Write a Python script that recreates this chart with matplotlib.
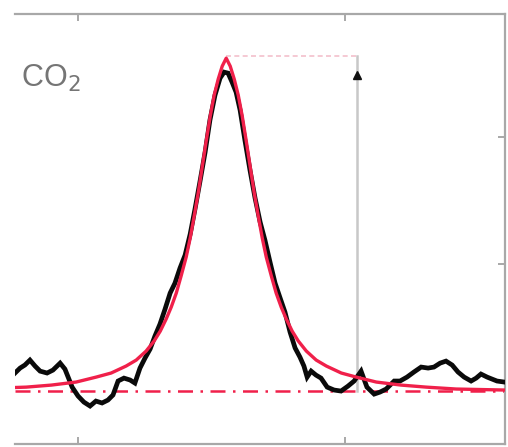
import matplotlib
matplotlib.use("Agg")
import matplotlib.pyplot as plt

# Measured trace (black) - relative frequency (a.u.) vs signal (a.u.)
data_x = [-0.736, -0.717, -0.699, -0.680, -0.661, -0.642, -0.616, -0.594, -0.567, -0.549,
          -0.522, -0.500, -0.478, -0.455, -0.433, -0.410, -0.388, -0.369, -0.350, -0.328,
          -0.305, -0.287, -0.268, -0.249, -0.230, -0.212, -0.193, -0.174, -0.155, -0.137,
          -0.118, -0.099, -0.080, -0.062, -0.043, -0.024, -0.006, 0.013, 0.032, 0.047,
          0.062, 0.077, 0.092, 0.107, 0.125, 0.144, 0.163, 0.182, 0.200, 0.219,
          0.238, 0.257, 0.275, 0.294, 0.313, 0.331, 0.346, 0.358, 0.373, 0.391,
          0.410, 0.433, 0.459, 0.485, 0.511, 0.534, 0.560, 0.582, 0.609, 0.631,
          0.654, 0.684, 0.706, 0.732, 0.758, 0.785, 0.811, 0.833, 0.856, 0.878,
          0.901, 0.923, 0.946, 0.972, 0.991, 1.009, 1.032, 1.051, 1.069, 1.096]
data_y = [0.142, 0.181, 0.205, 0.244, 0.197, 0.157, 0.142, 0.165, 0.220, 0.173,
          0.031, -0.039, -0.087, -0.118, -0.079, -0.094, -0.071, -0.031, 0.079, 0.102,
          0.087, 0.063, 0.181, 0.260, 0.331, 0.433, 0.528, 0.646, 0.772, 0.850,
          0.969, 1.071, 1.236, 1.433, 1.654, 1.882, 2.134, 2.331, 2.465, 2.512,
          2.504, 2.433, 2.354, 2.213, 1.976, 1.740, 1.520, 1.331, 1.189, 1.016,
          0.850, 0.732, 0.622, 0.465, 0.339, 0.268, 0.197, 0.110, 0.157, 0.126,
          0.102, 0.031, 0.008, 0.000, 0.039, 0.079, 0.157, 0.031, -0.024, -0.008,
          0.016, 0.079, 0.079, 0.110, 0.150, 0.189, 0.181, 0.189, 0.220, 0.236,
          0.205, 0.150, 0.110, 0.079, 0.102, 0.134, 0.110, 0.094, 0.079, 0.071]

# Fitted line profile (red)
fit_x = [-0.736, -0.694, -0.600, -0.507, -0.432, -0.376, -0.320, -0.282, -0.245, -0.215,
         -0.192, -0.170, -0.151, -0.132, -0.114, -0.095, -0.080, -0.065, -0.050, -0.035,
         -0.020, -0.005, 0.010, 0.025, 0.040, 0.055, 0.070, 0.085, 0.100, 0.115,
         0.130, 0.145, 0.160, 0.175, 0.190, 0.205, 0.224, 0.242, 0.261, 0.280,
         0.302, 0.325, 0.355, 0.392, 0.430, 0.486, 0.542, 0.617, 0.710, 0.804,
         0.916, 1.099]
fit_y = [0.028, 0.031, 0.047, 0.071, 0.110, 0.142, 0.197, 0.244, 0.315, 0.394,
         0.472, 0.567, 0.661, 0.772, 0.906, 1.055, 1.205, 1.378, 1.559, 1.764,
         1.969, 2.165, 2.331, 2.457, 2.559, 2.622, 2.559, 2.457, 2.331, 2.165,
         1.969, 1.764, 1.559, 1.378, 1.205, 1.055, 0.906, 0.772, 0.661, 0.567,
         0.472, 0.394, 0.315, 0.244, 0.197, 0.142, 0.110, 0.071, 0.047, 0.031,
         0.016, 0.008]

baseline = 0.0
peak_x = 0.055
peak_y = 2.64
marker_x = 0.545
label = "CO$_2$"
x_ticks = [-0.5, 0.5]
y_ticks = [1.0, 2.0]

fig = plt.figure(figsize=(5.08, 4.47), dpi=100)
ax = fig.add_axes([15/508, 3/447, 490/508, 430/447])
ax.set_xlim(-0.736, 1.099)
ax.set_ylim(-0.417, 2.97)

red = "#f0204a"
ax.axhline(baseline, color=red, lw=1.8, ls=(0, (6, 3, 1, 3)), zorder=2)
ax.plot([peak_x, marker_x], [peak_y, peak_y], color="#f4c0cc", lw=1.2, ls=(0, (3, 2)), zorder=1)
ax.plot([marker_x, marker_x], [baseline, peak_y], color="#c8c8c8", lw=1.8, zorder=1)
ax.plot([marker_x], [2.49], marker="^", color="#111111", ms=6, zorder=3)

ax.plot(data_x, data_y, color="#0a0a0a", lw=3.4, solid_joinstyle="miter", zorder=3)
ax.plot(fit_x, fit_y, color=red, lw=2.4, zorder=4)

ax.text(0.012, 0.85, label, transform=ax.transAxes, fontsize=22,
        color="#757575", family="Liberation Sans", va="center", ha="left")

for s in ["top", "right", "bottom"]:
    ax.spines[s].set_color("#a8a8a8")
    ax.spines[s].set_linewidth(1.6)
ax.spines["left"].set_visible(False)

ax.set_xticks(x_ticks)
ax.set_yticks(y_ticks)
ax.tick_params(axis="x", direction="in", top=True, bottom=True, length=5, width=1.4,
               color="#a8a8a8", labelbottom=False, labeltop=False)
ax.tick_params(axis="y", direction="in", left=False, right=True, length=5, width=1.4,
               color="#a8a8a8", labelleft=False, labelright=False)

fig.savefig("out.png", dpi=100, facecolor="white")
